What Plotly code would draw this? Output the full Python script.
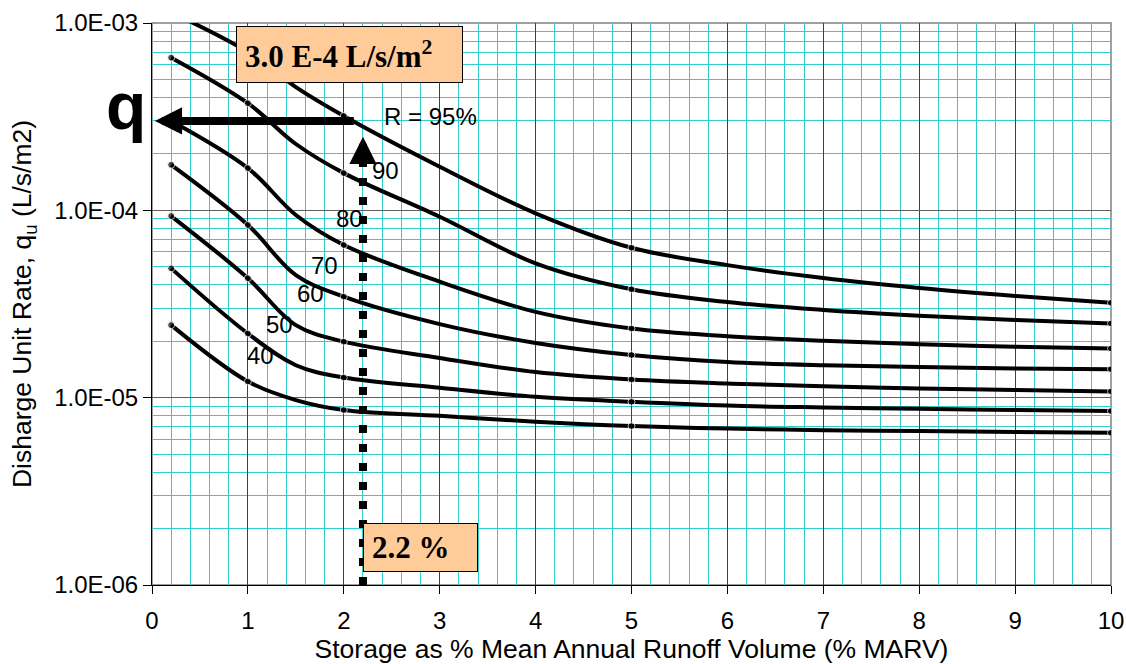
import math
import plotly.graph_objects as go

# Storage as % of mean annual runoff volume (x) and unit discharge rate q_u (L/s/m2)
storage = [0.2, 1, 1.5, 2, 3, 4, 5, 6, 7, 8, 9, 10]

q_r95 = [1.14e-3, 7.0e-4, 4.55e-4, 3.19e-4, 1.71e-4, 9.64e-5, 6.31e-5, 5.10e-5, 4.35e-5, 3.85e-5, 3.49e-5, 3.21e-5]
q_r90 = [6.53e-4, 3.73e-4, 2.26e-4, 1.58e-4, 9.24e-5, 5.21e-5, 3.79e-5, 3.24e-5, 2.94e-5, 2.74e-5, 2.60e-5, 2.49e-5]
q_r80 = [3.00e-4, 1.68e-4, 9.44e-5, 6.53e-5, 4.16e-5, 2.87e-5, 2.34e-5, 2.13e-5, 2.01e-5, 1.93e-5, 1.87e-5, 1.83e-5]
q_r70 = [1.75e-4, 8.35e-5, 4.51e-5, 3.46e-5, 2.47e-5, 1.96e-5, 1.69e-5, 1.55e-5, 1.49e-5, 1.46e-5, 1.43e-5, 1.42e-5]
q_r60 = [9.32e-5, 4.34e-5, 2.44e-5, 1.99e-5, 1.63e-5, 1.37e-5, 1.25e-5, 1.19e-5, 1.15e-5, 1.12e-5, 1.10e-5, 1.08e-5]
q_r50 = [4.90e-5, 2.20e-5, 1.49e-5, 1.28e-5, 1.13e-5, 1.01e-5, 9.50e-6, 9.07e-6, 8.87e-6, 8.72e-6, 8.59e-6, 8.48e-6]
q_r40 = [2.44e-5, 1.22e-5, 9.71e-6, 8.59e-6, 8.00e-6, 7.43e-6, 7.05e-6, 6.84e-6, 6.71e-6, 6.63e-6, 6.55e-6, 6.49e-6]

curves = [q_r95, q_r90, q_r80, q_r70, q_r60, q_r50, q_r40]

# Curve labels: (text, storage position, q position)
curve_labels = [
    ("R = 95%", 2.90, 3.15e-4),
    ("90", 2.43, 1.64e-4),
    ("80", 2.06, 9.1e-5),
    ("70", 1.80, 5.1e-5),
    ("60", 1.65, 3.6e-5),
    ("50", 1.33, 2.45e-5),
    ("40", 1.13, 1.67e-5),
]

# Worked example: 2.2 % storage read up to the 95 % curve gives q
storage_pick = 2.2
q_pick = 3.0e-4
arrow_tail_storage = 2.12
arrow_tip_storage = 0.03
vertical_tip_q = 2.47e-4

decades = [1e-6, 1e-5, 1e-4, 1e-3]
decade_text = ["1.0E-06", "1.0E-05", "1.0E-04", "1.0E-03"]
minor_q = [m * d for d in decades[:-1] for m in range(2, 10)]

# marker dots on the tabulated points
dot_sizes = [7 if s in (0.2, 1, 2, 5, 10) else 0 for s in storage]

CYAN = "#33CCCC"
fig = go.Figure()

for q in curves:
    fig.add_trace(go.Scatter(
        x=storage, y=q, mode="lines+markers",
        line=dict(color="black", width=4, shape="spline", smoothing=1.0),
        marker=dict(color="black", size=dot_sizes),
        showlegend=False, hoverinfo="skip",
    ))

# dotted vertical guide at the chosen storage
fig.add_trace(go.Scatter(
    x=[storage_pick, storage_pick], y=[decades[0], vertical_tip_q * 0.82],
    mode="lines", line=dict(color="black", width=8, dash="8px,11px"),
    showlegend=False, hoverinfo="skip",
))

annotations = []
for text, sx, qy in curve_labels:
    annotations.append(dict(
        x=sx, y=math.log10(qy), xref="x", yref="y", text=text, showarrow=False,
        font=dict(family="Liberation Sans, Arial", size=24, color="black"),
    ))

# horizontal arrow towards the q axis
annotations.append(dict(
    x=arrow_tip_storage, y=math.log10(q_pick), xref="x", yref="y",
    ax=arrow_tail_storage, ay=math.log10(q_pick), axref="x", ayref="y",
    text="", showarrow=True, arrowhead=2, arrowsize=0.68, arrowwidth=8,
    arrowcolor="black", standoff=0, startstandoff=0,
))
# arrow head on top of the dotted guide
annotations.append(dict(
    x=storage_pick, y=math.log10(vertical_tip_q), xref="x", yref="y",
    ax=0, ay=30, text="", showarrow=True, arrowhead=2, arrowsize=0.68,
    arrowwidth=8, arrowcolor="black", standoff=0,
))

annotations.append(dict(
    x=-0.027, y=0.922, xref="paper", yref="paper", xanchor="center", yanchor="top",
    text="<b>q</b>", showarrow=False,
    font=dict(family="Liberation Sans, Arial", size=66, color="black"),
))

annotations.append(dict(
    x=0.0876, y=0.9947, xref="paper", yref="paper", xanchor="left", yanchor="top",
    text="<b>3.0 E-4 L/s/m<sup>2</sup></b>", showarrow=False, align="left",
    width=209, height=39, borderpad=8,
    bgcolor="#FFCC99", bordercolor="black", borderwidth=1,
    font=dict(family="Liberation Serif, Times New Roman", size=31, color="black"),
))
annotations.append(dict(
    x=0.2203, y=0.1098, xref="paper", yref="paper", xanchor="left", yanchor="top",
    text="<b>2.2 %</b>", showarrow=False, align="left",
    width=97, height=31, borderpad=8,
    bgcolor="#FFCC99", bordercolor="black", borderwidth=1,
    font=dict(family="Liberation Serif, Times New Roman", size=31, color="black"),
))

fig.update_layout(
    width=1126, height=664,
    margin=dict(l=152, r=15, t=23, b=79, autoexpand=False),
    paper_bgcolor="white", plot_bgcolor="white",
    font=dict(family="Liberation Sans, Arial", size=24, color="black"),
    annotations=annotations,
    shapes=[dict(type="rect", xref="paper", yref="paper", x0=0, y0=0, x1=1, y1=1,
                 line=dict(color="#808080", width=1.5), layer="below")],
)

fig.update_xaxes(
    range=[0, 10], tick0=0, dtick=1, automargin=False,
    showgrid=True, gridcolor="#404040", gridwidth=1,
    minor=dict(dtick=0.2, showgrid=True, gridcolor=CYAN, gridwidth=1),
    showline=True, linecolor="black", linewidth=1,
    ticks="outside", ticklen=8, tickcolor="black", ticklabelstandoff=6,
    tickfont=dict(size=24), zeroline=False,
    title=dict(text="Storage as % Mean Annual Runoff Volume (% MARV)",
               font=dict(size=26.5), standoff=4),
)
fig.update_yaxes(
    type="log", range=[-6, -3], automargin=False,
    tickmode="array", tickvals=decades, ticktext=decade_text,
    showgrid=True, gridcolor="#606060", gridwidth=1,
    minor=dict(tickmode="array", tickvals=minor_q, showgrid=True, gridcolor=CYAN, gridwidth=1),
    showline=True, linecolor="black", linewidth=1,
    ticks="outside", ticklen=8, tickcolor="black",
    tickfont=dict(size=24), zeroline=False,
    title=dict(text="Disharge Unit Rate, q<sub>u</sub> (L/s/m2)",
               font=dict(size=26.5), standoff=14),
)

fig.write_html("out.html")
